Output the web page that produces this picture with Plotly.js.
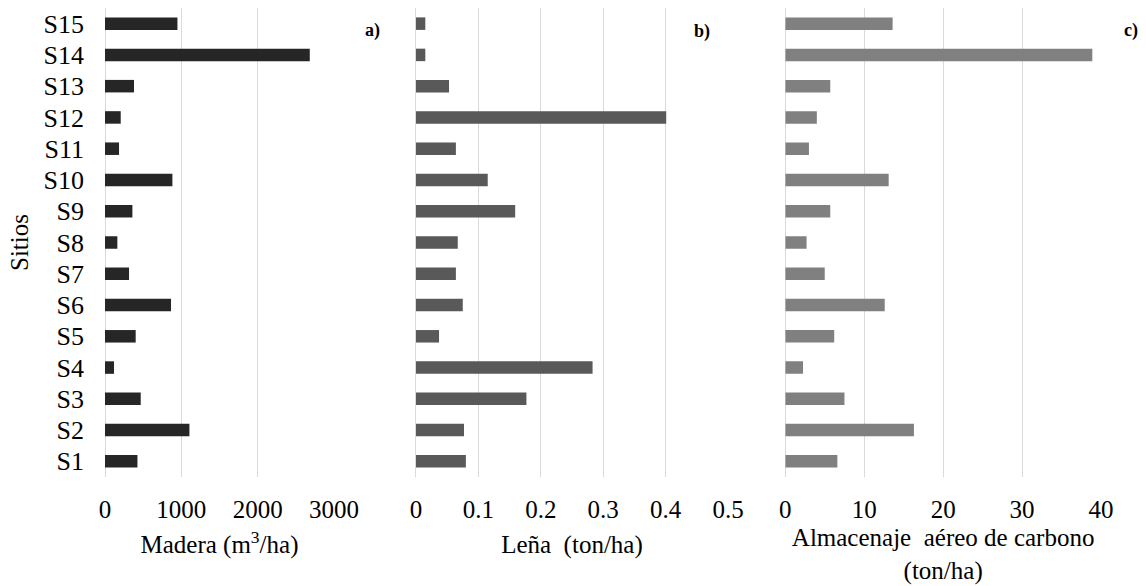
<!DOCTYPE html>
<html>
<head>
<meta charset="utf-8">
<script src="https://cdn.plot.ly/plotly-3.0.1.min.js"></script>
<style>html,body{margin:0;padding:0;background:#fff;}#chart{width:1146px;height:586px;}</style>
</head>
<body>
<div id="chart"></div>
<script>
const sites = ['S1','S2','S3','S4','S5','S6','S7','S8','S9','S10','S11','S12','S13','S14','S15'];
const madera = [425, 1106, 468, 118, 402, 865, 315, 162, 359, 883, 184, 206, 380, 2683, 949];
const lena = [0.080, 0.077, 0.177, 0.283, 0.037, 0.075, 0.064, 0.067, 0.159, 0.115, 0.064, 0.401, 0.053, 0.015, 0.015];
const carbono = [6.6, 16.3, 7.5, 2.25, 6.2, 12.6, 5.0, 2.7, 5.7, 13.1, 3.0, 4.0, 5.7, 38.9, 13.6];
const maderaTicks = [0, 1000, 2000, 3000];
const lenaTicks = [0, 0.1, 0.2, 0.3, 0.4, 0.5];
const carbonoTicks = [0, 10, 20, 30, 40];

const FONT = '"Liberation Serif", "Times New Roman", serif';
const GRID = '#d9d9d9';

const traces = [
  {type:'bar', orientation:'h', y:sites, x:madera, xaxis:'x', yaxis:'y', marker:{color:'#262626'}, hoverinfo:'x+y'},
  {type:'bar', orientation:'h', y:sites, x:lena, xaxis:'x2', yaxis:'y2', marker:{color:'#595959'}, hoverinfo:'x+y'},
  {type:'bar', orientation:'h', y:sites, x:carbono, xaxis:'x3', yaxis:'y3', marker:{color:'#808080'}, hoverinfo:'x+y'}
];

function xax(domain, range, ticks, title, standoff) {
  return {
    domain: domain, range: range, tickvals: ticks, ticktext: ticks.map(String),
    showgrid: true, gridcolor: GRID, gridwidth: 1,
    zeroline: true, zerolinecolor: GRID, zerolinewidth: 1,
    showline: false, ticks: '', ticklabelstandoff: 15,
    tickfont: {family: FONT, size: 25, color: '#000'},
    title: {text: title, font: {family: FONT, size: 25, color: '#000'}, standoff: standoff},
    automargin: false, fixedrange: true
  };
}
function yax(anchor, showLabels) {
  const ax = {
    anchor: anchor, type: 'category', categoryorder: 'array', categoryarray: sites,
    showgrid: false, zeroline: false, showline: false, ticks: '',
    showticklabels: showLabels, ticklabelstandoff: 20,
    tickfont: {family: FONT, size: 26, color: '#000'},
    automargin: false, fixedrange: true
  };
  if (showLabels) ax.title = {text: 'Sitios', font: {family: FONT, size: 25, color: '#000'}, standoff: 7};
  return ax;
}

const layout = {
  width: 1146, height: 586,
  margin: {l: 105, r: 45, t: 8, b: 109},
  paper_bgcolor: '#fff', plot_bgcolor: '#fff',
  showlegend: false, bargap: 0.6,
  font: {family: FONT, color: '#000'},
  xaxis: xax([0, 0.2299], [0, 3000], maderaTicks, 'Madera (m<sup>3</sup>/ha)', 13),
  xaxis2: xax([0.3122, 0.6255], [0, 0.5], lenaTicks, 'Leña  (ton/ha)', 13),
  xaxis3: xax([0.6830, 1], [0, 40], carbonoTicks, 'Almacenaje  aéreo de carbono<br>(ton/ha)', 6),
  yaxis: yax('x', true),
  yaxis2: yax('x2', false),
  yaxis3: yax('x3', false),
  annotations: [
    {text:'<b>a)</b>', xref:'paper', yref:'paper', x:0.269, y:0.953, xanchor:'center', yanchor:'middle', showarrow:false, font:{family:FONT, size:18, color:'#000'}},
    {text:'<b>b)</b>', xref:'paper', yref:'paper', x:0.599, y:0.949, xanchor:'center', yanchor:'middle', showarrow:false, font:{family:FONT, size:18, color:'#000'}},
    {text:'<b>c)</b>', xref:'paper', yref:'paper', x:1.030, y:0.953, xanchor:'center', yanchor:'middle', showarrow:false, font:{family:FONT, size:18, color:'#000'}}
  ]
};

Plotly.newPlot('chart', traces, layout, {displayModeBar: false, staticPlot: true});
</script>
</body>
</html>
